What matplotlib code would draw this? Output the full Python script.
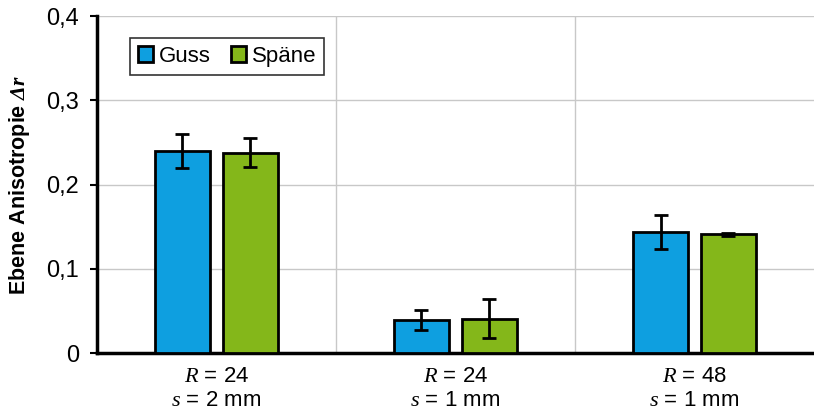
import matplotlib
matplotlib.use("Agg")
import matplotlib.pyplot as plt
import numpy as np

# Daten
categories = ["$R$ = 24\n$s$ = 2 mm", "$R$ = 24\n$s$ = 1 mm", "$R$ = 48\n$s$ = 1 mm"]
guss = [0.240, 0.039, 0.144]
guss_err = [0.020, 0.012, 0.020]
spaene = [0.238, 0.041, 0.141]
spaene_err = [0.017, 0.023, 0.002]
y_ticks = [0, 0.1, 0.2, 0.3, 0.4]
y_tick_labels = ["0", "0,1", "0,2", "0,3", "0,4"]

plt.rcParams['font.family'] = ['Liberation Sans', 'DejaVu Sans']
plt.rcParams['mathtext.fontset'] = 'custom'
plt.rcParams['mathtext.rm'] = 'Liberation Serif'
plt.rcParams['mathtext.it'] = 'Liberation Serif:italic'
plt.rcParams['mathtext.bf'] = 'Liberation Serif:italic:bold'

fig = plt.figure(figsize=(8.14, 4.15), dpi=100)
ax = fig.add_axes([0.119, 0.149, 0.881, 0.812])

x = np.arange(len(categories))
w = 0.23
off = 0.142
err_kw = dict(ecolor='black', elinewidth=2, capsize=5, capthick=2)
ax.bar(x - off, guss, w, yerr=guss_err, color='#0E9FE0', edgecolor='black',
       linewidth=2, label='Guss', error_kw=err_kw, zorder=3)
ax.bar(x + off, spaene, w, yerr=spaene_err, color='#84B71A', edgecolor='black',
       linewidth=2, label='Späne', error_kw=err_kw, zorder=3)

ax.set_xlim(-0.5, 2.5)
ax.set_ylim(0, 0.4)
ax.set_xticks(x)
ax.set_xticklabels(categories, fontsize=16, linespacing=1.2)
ax.set_xticks([0.5, 1.5], minor=True)
ax.tick_params(axis='x', which='both', length=0, pad=9)
ax.set_yticks(y_ticks)
ax.set_yticklabels(y_tick_labels, fontsize=17)
ax.tick_params(axis='y', length=5, width=1.5, direction='out', pad=8)

ax.grid(True, axis='y', color='#C8C8C8', linewidth=1, zorder=0)
ax.grid(True, axis='x', which='minor', color='#C8C8C8', linewidth=1, zorder=0)
ax.set_axisbelow(True)

for side in ['top', 'right']:
    ax.spines[side].set_visible(False)
ax.spines['left'].set_linewidth(2.5)
ax.spines['bottom'].set_linewidth(2.5)

ax.set_ylabel("Ebene Anisotropie $\\mathbf{\\Delta r}$", fontsize=15.5,
              fontweight='bold', labelpad=10)

leg = ax.legend(loc='upper left', bbox_to_anchor=(0.046, 0.935), ncol=2,
                fontsize=16, frameon=True, fancybox=False, edgecolor='black',
                handlelength=0.7, handleheight=0.7, handletextpad=0.25,
                columnspacing=0.9, borderpad=0.35, borderaxespad=0)
leg.get_frame().set_linewidth(1.2)

fig.savefig("out.png", dpi=100)
